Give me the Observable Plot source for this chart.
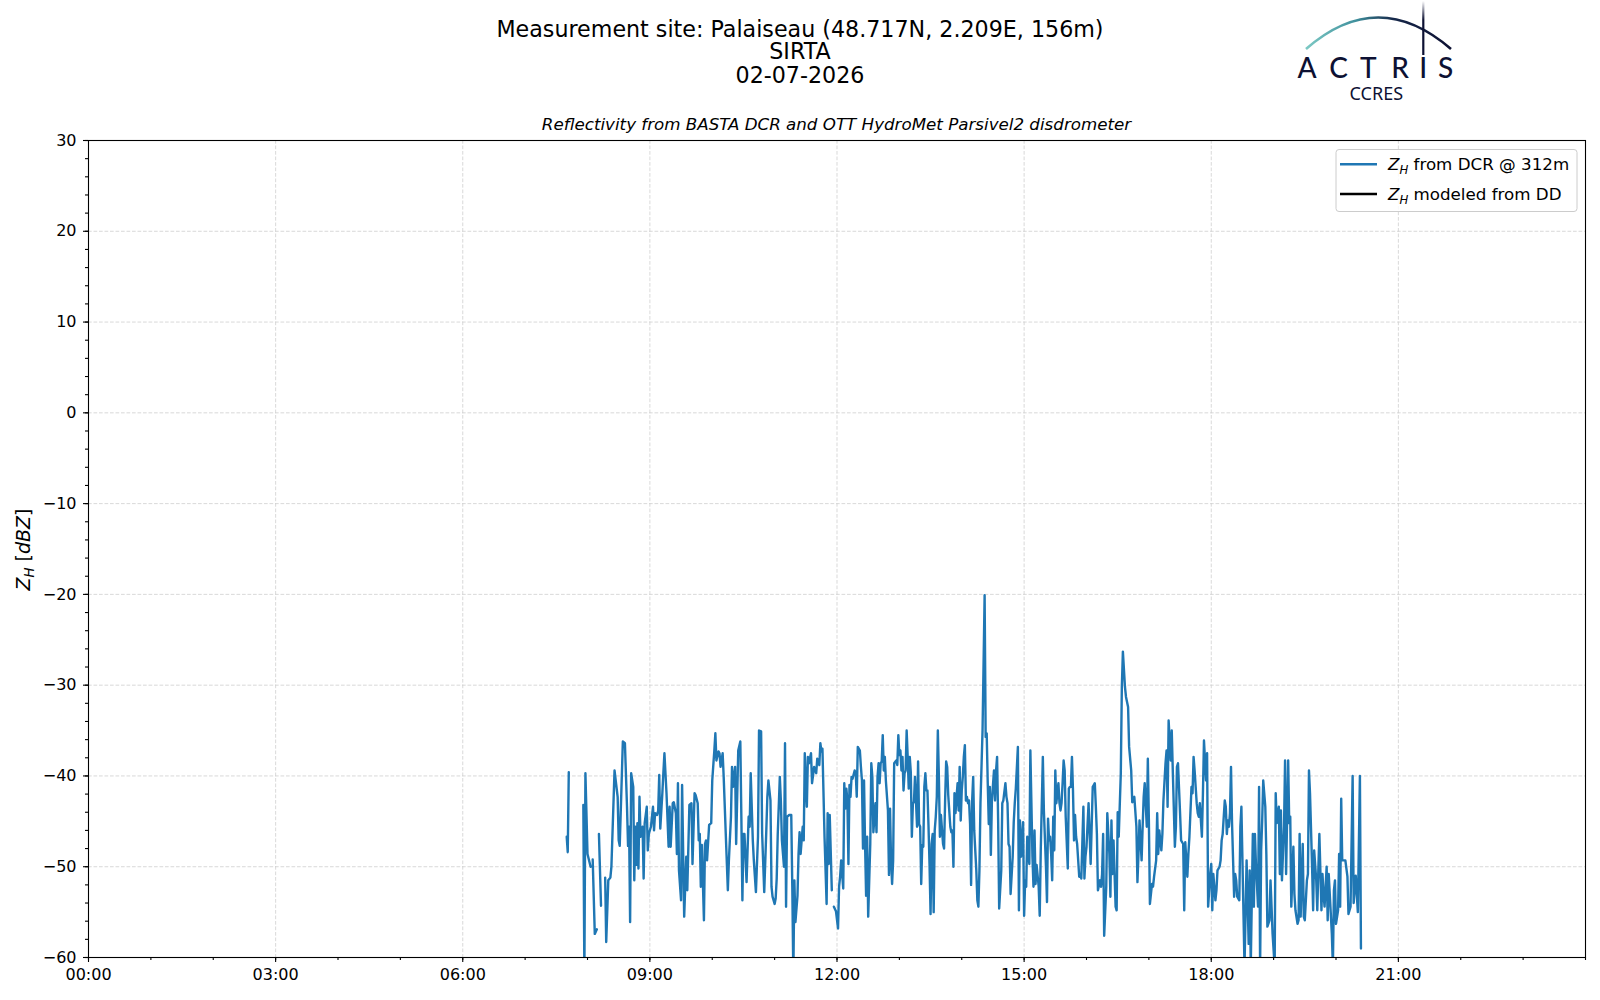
<!DOCTYPE html>
<html><head><meta charset="utf-8">
<script src="https://cdn.jsdelivr.net/npm/d3@7"></script>
<script src="https://cdn.jsdelivr.net/npm/@observablehq/plot@0.6"></script>
<style>
html,body{margin:0;padding:0;background:#fff;}
#wrap{position:relative;width:1600px;height:1000px;overflow:hidden;background:#fff;}
#wrap > svg{position:absolute;left:0;top:0;}
</style></head><body><div id="wrap"></div>
<script>
// ---- data: [minutes since midnight, Z_H in dBZ]; null = gap ----
const dcrMorning = [[460,-46.7],[461,-48.4],[462,-39.6],[469,null],[476,-43.2],[477,-62],[478,-39.7],[480,-48.6],[483,-50.0],[484,null],[485,-49.2],[487,-57.4],[489,-56.9],[490,null],[491,-46.4],[493,-54.3],[495,null],
[497,-51.2],[498,-58.3],[500,-51.5],[502,-51.2],[503,-50.0],[506,-39.4],[509,-42.3],[510,-47.1],[511,-47.7],[514,-36.2],[516,-36.4],[518,-43.4],[519,-47.7],[520,-45.6],[521,-56.1],[522,-39.7],[524,-41.2],[525,-51.5],[526,-45.6],[527,-49.8],[528,-45.2],[529,-50.2],[530,-42.3],[531,-46.7],[533,-45.6],[534,-51.3],[535,-45.2],[537,-43.4],[538,-48.2],[539,-46.4],[541,-45.6],[543,-43.4],[544,-46.0],[545,-44.1],[547,-44.3],[548,-43.8],[549,-39.9],[550,-45.8],[552,-41.9],[553,-39.6],[554,-37.5],[555,-39.7],[556,-41.9],[558,-47.8],[559,-43.4],[560,-47.8],[562,-43.0],[563,-42.9],[565,-44.1],[566,-48.6],[567,-40.8],[568,-50.4],[570,-53.7],[571,-41.0],[573,-55.5],[575,-48.9],[576,-52.6],[578,-43.2],[580,-43.0],[581,-49.7],[583,-41.9],[584,-42.1],[586,-43.0],[587,-47.1],[588,-46.4],[589,-52.2],[590,-47.6],[592,-55.9],[593,-47.5],[594,-47.1],[595,-49.3],[597,-45.4],[599,-45.2],[600,-40.5],[602,-37.2],[603,-35.3],[604,-38.3],[606,-37.3],[607,-37.5],[608,-39.0],[610,-37.5],[611,-40.1],[613,-46.4],[615,-52.6],[616,-49.3],[618,-44.5],[619,-39.0],[620,-41.2],[622,-39.0],[623,-47.5],[625,-37.2],[627,-36.2],[628,-44.5],[629,-53.7],[630,-46.4],[631,-46.4],[633,-51.7],[635,-44.5],[636,-45.6],[637,-39.7],[639,-47.1],[640,-49.3],[642,-52.8],[644,-46.7],[645,-35.0],[647,-35.1],[648,-46.4],[650,-52.8],[652,-46.0],[653,-42.3],[654,-40.5],[656,-42.7],[657,-52.2],[658,-53.3],[660,-54.1],[661,-53.5],[662,-51.3],[663,-46.4],[665,-40.1],[666,-42.7],[667,-47.1],[669,-50.0],[670,-36.4],[671,-54.4],[672,-44.5],[674,-44.3],[676,-44.3],[677,-52.2],[678,-62],[679,-51.5],[680,-56.1],[682,-53.2],[683,-48.6],[684,-46.2],[685,-48.6],[687,-45.6],[688,-47.1],[689,-37.5],[690,-40.8],[691,-43.4],[692,-37.9],[693,-38.6],[695,-37.5],[696,-40.8],[698,-39.0],[700,-39.7],[701,-38.1],[703,-38.8],[704,-36.4]];

const dcrMidday = [[705,-37.3],[706,-37.0],[708,-46.7],[710,-54.1],[711,-44.1],[712,-49.7],[713,-44.3],[715,-52.6],[716,null],[717,-54.4],[719,-54.9],[721,-56.8],[722,-52.2],[723,-51.1],[724,-49.3],[726,-52.4],[727,-40.8],[728,-43.6],[729,-41.4],[730,-42.7],[731,-49.7],[732,-41.0],[733,-42.3],[734,-40.1],[735,-40.3],[737,-39.4],[738,-39.6],[739,-42.3],[740,-36.8],[742,-37.2],[743,-39.0],[744,-40.5],[745,-48.0],[746,-40.5],[747,-47.5],[748,-53.2],[749,-46.7],[750,-55.5],[752,-47.5],[753,-38.6],[754,-40.1],[755,-46.2],[757,-43.0],[758,-46.2],[759,-40.1],[760,-38.6],[761,-40.8],[762,-38.6],[763,-38.4],[764,-35.5],[765,-39.4],[766,-37.9],[767,-40.5],[769,-43.8],[770,-50.9],[771,-43.6],[772,-49.3],[773,-51.9],[774,-49.3],[775,-38.6],[777,-38.3],[778,-38.8],[779,-35.5],[780,-37.7],[781,-37.2],[782,-39.4],[783,-37.9],[784,-41.6],[785,-39.7],[786,-39.4],[787,-35.0],[788,-37.9],[789,-41.4],[790,-37.9],[791,-39.6],[792,-46.7],[793,-43.0],[794,-42.9],[795,-40.1],[797,-45.6],[798,-38.4],[799,-45.3],[800,-45.6],[801,-51.9],[802,-47.6],[803,-47.8],[804,-41.2],[805,-39.7],[806,-41.6],[807,-41.6],[808,-45.4],[809,-49.7],[810,-55.2],[811,-47.5],[812,-46.4],[813,-55.0],[814,-46.0],[815,-44.5],[816,-42.3],[817,-35.0],[818,-40.1],[819,-46.7],[820,-44.3],[822,-47.5],[823,-48.0],[824,-42.7],[825,-38.4],[826,-39.0],[827,-42.1],[829,-45.6],[830,-46.2],[831,-46.0],[832,-50.0],[833,-41.9],[834,-44.1],[835,-42.3],[836,-40.8],[837,-43.8],[838,-39.0],[839,-44.9],[840,-41.6],[841,-40.1],[842,-37.9],[843,-36.6],[844,-42.7],[845,-42.3],[846,-43.0],[847,-42.7],[848,-45.3],[849,-52.0],[850,-42.7],[851,-40.1],[852,-46.0],[854,-50.4],[855,-53.7],[856,-54.4],[857,-50.4],[858,-43.0],[860,-35.0],[862,-20.1],[863,-35.7],[864,-35.3],[865,-40.8],[866,-45.3],[867,-41.2],[868,-48.7],[869,-42.7],[871,-39.4],[872,-42.7],[873,-39.4],[874,-37.9],[875,-44.9],[876,-54.6],[878,-50.4],[879,-43.0],[880,-42.7],[882,-40.8],[883,-42.3],[884,-43.0],[885,-47.5],[886,-47.8],[887,-53.0],[889,-48.9],[890,-45.1],[891,-43.0],[892,-41.4],[894,-36.8],[895,-54.8],[896,-44.9],[897,-48.9],[899,-45.1],[900,-55.4],[901,-51.5],[902,-52.2],[903,-46.7],[905,-49.7],[906,-37.2],[907,-43.0],[908,-48.9],[909,-52.2],[910,-46.0],[911,-51.9],[912,-49.8],[914,-52.2],[915,-55.4],[916,-48.2],[917,-43.0],[918,-37.9],[919,-43.8],[921,-50.0],[922,-53.9],[923,-44.7],[924,-47.1],[925,-46.7],[926,-48.6],[927,-51.5],[928,-44.5],[929,-48.2],[930,-39.4],[931,-43.0],[933,-40.8],[934,-43.0],[935,-43.8],[936,-43.0],[937,-40.8],[938,-38.3],[939,-39.4],[940,-44.5],[942,-50.2],[943,-41.4],[944,-41.2],[945,-41.2],[946,-37.9],[947,-41.6],[948,-47.1],[949,-44.3],[950,-46.7],[951,-47.5],[953,-51.1]];

const dcrEvening = [[954,-50.8],[955,-51.3],[957,-43.4],[958,-51.3],[959,-48.9],[960,-47.8],[962,-43.0],[963,-46.4],[964,-49.7],[966,-41.2],[967,-41.0],[968,-40.8],[969,-43.4],[970,-46.4],[971,-52.6],[973,-51.5],[974,-52.2],[975,-50.8],[976,-46.4],[977,-57.6],[979,-52.2],[980,-44.1],[982,-48.6],[983,-53.3],[984,-44.9],[985,-50.8],[986,-47.1],[988,-54.4],[989,-54.8],[990,-44.0],[991,-46.7],[993,-39.7],[994,-30.2],[995,-26.3],[997,-30.2],[998,-31.3],[1000,-32.4],[1001,-36.8],[1003,-39.4],[1004,-42.9],[1006,-42.3],[1008,-45.6],[1009,-51.7],[1010,-48.6],[1011,-44.9],[1013,-49.3],[1014,-45.6],[1015,-42.3],[1016,-40.8],[1018,-45.6],[1019,-38.1],[1020,-44.9],[1021,-54.1],[1023,-51.9],[1024,-52.2],[1025,-51.1],[1027,-49.3],[1028,-44.1],[1029,-48.6],[1030,-46.0],[1032,-48.2],[1033,-46.4],[1034,-42.7],[1036,-38.6],[1037,-37.2],[1038,-43.4],[1039,-33.9],[1041,-38.3],[1042,-35.0],[1043,-39.4],[1045,-47.8],[1046,-45.6],[1047,-39.0],[1048,-38.6],[1050,-44.1],[1051,-47.1],[1053,-47.5],[1054,-54.8],[1055,-47.3],[1057,-51.1],[1058,-48.6],[1059,-46.7],[1061,-41.2],[1062,-41.9],[1063,-37.9],[1064,-39.4],[1066,-43.0],[1067,-44.1],[1068,-44.5],[1069,-43.0],[1071,-46.7],[1072,-41.9],[1073,-36.1],[1075,-40.5],[1076,-37.5],[1077,-54.4],[1079,-50.8],[1080,-49.7],[1081,-54.8],[1082,-50.8],[1084,-53.7],[1085,-52.6],[1086,-50.4],[1088,-50.0],[1089,-49.3],[1090,-47.1],[1091,-46.4],[1093,-42.7],[1094,-43.4],[1095,-46.4],[1096,-44.9],[1097,-45.6],[1098,-44.1],[1099,-39.0],[1100,-45.2],[1102,-53.3],[1103,-50.8],[1104,-51.5],[1105,-53.3],[1107,-53.7],[1108,-45.6],[1109,-43.4],[1112,-61],[1113,-55.2],[1114,-49.3],[1116,-58.5],[1117,-50.4],[1118,-61],[1120,-46.4],[1121,-54.4],[1122,-46.4],[1123,-49.7],[1125,-54.4],[1126,-41.2],[1127,-61],[1128,-48.2],[1129,-44.9],[1130,-40.5],[1132,-43.4],[1133,-48.6],[1134,-56.6],[1136,-55.9],[1137,-51.5],[1138,-54.4],[1139,-57.4],[1141,-61],[1142,-41.9],[1143,-45.2],[1145,-43.4],[1146,-50.8],[1147,-43.8],[1148,-51.5],[1150,-45.6],[1151,-38.3],[1152,-50.8],[1154,-38.3],[1155,-45.2],[1156,-44.5],[1157,-54.4],[1159,-47.8],[1160,-53.0],[1161,-54.8],[1163,-56.3],[1164,-55.9],[1165,-46.4],[1166,-55.5],[1168,-47.5],[1169,-55.5],[1170,-55.9],[1172,-51.5],[1173,-50.8],[1174,-39.4],[1175,-41.9],[1177,-50.0],[1178,-54.8],[1179,-48.2],[1181,-51.5],[1182,-54.8],[1183,-50.4],[1184,-46.4],[1186,-54.8],[1187,-50.8],[1188,-53.0],[1189,-54.4],[1191,-50.0],[1192,-55.9],[1193,-50.8],[1195,-55.2],[1196,-57.4],[1197,-61],[1198,-52.6],[1199,-51.5],[1200,-56.3],[1202,-54.8],[1203,-48.6],[1204,-54.4],[1205,-42.5],[1206,-49.3],[1209,-49.3],[1211,-51.1],[1212,-55.2],[1214,-54.4],[1216,-40.0],[1217,-54.0],[1219,-51.0],[1221,-55.0],[1223,-40.0],[1224,-59.0]];

const ddModeled = []; // no disdrometer-modeled values on this day

const titleLines = ["Measurement site: Palaiseau (48.717N, 2.209E, 156m)", "SIRTA", "02-07-2026"];
const subtitle = "Reflectivity from BASTA DCR and OTT HydroMet Parsivel2 disdrometer";
const legendLabels = [" from DCR @ 312m", " modeled from DD"];
const xMajorTicks = [0, 3, 6, 9, 12, 15, 18, 21];
const xTickLabels = ["00:00", "03:00", "06:00", "09:00", "12:00", "15:00", "18:00", "21:00"];
const xMinorTicks = d3.range(0, 25, 1);
const yMajorTicks = [-60, -50, -40, -30, -20, -10, 0, 10, 20, 30];
const yMinorTicks = d3.range(-60, 31, 2);

// ---- build ----
const toRow = ([m, z]) => ({h: m / 60, z});
const dcr = [...dcrMorning, ...dcrMidday, ...dcrEvening].map(toRow);
const dd = ddModeled.map(toRow);

const grid = {stroke: "#cfcfcf", strokeOpacity: 1, strokeWidth: 0.8, strokeDasharray: "3.7,1.8"};
const plot = Plot.plot({
  width: 1600, height: 1000,
  marginTop: 140, marginRight: 15, marginBottom: 43, marginLeft: 88,
  style: {fontFamily: "'DejaVu Sans', sans-serif", fontSize: "16px", color: "#000", background: "transparent"},
  x: {domain: [0, 24], label: null},
  y: {domain: [-60, 30], label: null},
  marks: [
    Plot.gridX(xMajorTicks, grid),
    Plot.gridY(yMajorTicks, grid),
    Plot.line(dcr, {x: "h", y: "z", stroke: "#1f77b4", strokeWidth: 2.4, clip: true, strokeLinejoin: "round"}),
    Plot.line(dd, {x: "h", y: "z", stroke: "#000", strokeWidth: 2.4, clip: true}),
    Plot.axisX(xMinorTicks, {tickSize: 3, tickFormat: () => "", label: null, strokeWidth: 1.1}),
    Plot.axisX(xMajorTicks, {tickSize: 5, tickPadding: 6, strokeWidth: 1.1, label: null,
      tickFormat: d => xTickLabels[xMajorTicks.indexOf(d)]}),
    Plot.axisY(yMinorTicks, {tickSize: 3, tickFormat: () => "", label: null, strokeWidth: 1.1}),
    Plot.axisY(yMajorTicks, {tickSize: 5, tickPadding: 7, label: null, strokeWidth: 1.1}),
    Plot.frame({stroke: "#000", strokeWidth: 1.1})
  ]
});
const wrap = document.getElementById("wrap");
wrap.appendChild(plot);

// ---- overlay: titles, y label, legend, logo ----
const svg = d3.select(wrap).append("svg").attr("width", 1600).attr("height", 1000)
  .attr("font-family", "'DejaVu Sans', sans-serif");
const defs = svg.append("defs");
const g1 = defs.append("linearGradient").attr("id", "arcGrad").attr("x1", "0").attr("x2", "1").attr("y1", "0").attr("y2", "0");
g1.append("stop").attr("offset", "0%").attr("stop-color", "#7cc9c4");
g1.append("stop").attr("offset", "35%").attr("stop-color", "#3f8f9c");
g1.append("stop").attr("offset", "60%").attr("stop-color", "#16284a");
g1.append("stop").attr("offset", "100%").attr("stop-color", "#0d1133");
const g2 = defs.append("linearGradient").attr("id", "stemGrad").attr("x1", "0").attr("x2", "0").attr("y1", "0").attr("y2", "1");
g2.append("stop").attr("offset", "0%").attr("stop-color", "#0d1133").attr("stop-opacity", 0);
g2.append("stop").attr("offset", "35%").attr("stop-color", "#0d1133").attr("stop-opacity", 1);
g2.append("stop").attr("offset", "100%").attr("stop-color", "#0d1133").attr("stop-opacity", 1);

const titleBaselines = [36.5, 59, 82.5];
titleLines.forEach((t, i) => svg.append("text").attr("x", 800).attr("y", titleBaselines[i])
  .attr("text-anchor", "middle").attr("font-size", 22.2).attr("fill", "#000").text(t));
svg.append("text").attr("x", 836.5).attr("y", 129.5).attr("text-anchor", "middle")
  .attr("font-size", 16.7).attr("font-style", "italic").attr("fill", "#000").text(subtitle);

// y label
const yl = svg.append("text").attr("transform", "translate(30,549.5) rotate(-90)")
  .attr("text-anchor", "middle").attr("font-size", 19).attr("fill", "#000");
yl.append("tspan").attr("font-style", "italic").text("Z");
yl.append("tspan").attr("font-style", "italic").attr("font-size", 13.3).attr("dy", 4).text("H");
yl.append("tspan").attr("dy", -4).text(" [");
yl.append("tspan").attr("font-style", "italic").text("dBZ");
yl.append("tspan").text("]");

// legend
svg.append("rect").attr("x", 1336).attr("y", 149.5).attr("width", 241).attr("height", 62).attr("rx", 3)
  .attr("fill", "#fff").attr("fill-opacity", 0.8).attr("stroke", "#cccccc").attr("stroke-width", 1);
const legendColors = ["#1f77b4", "#000"];
const legendRows = [164.3, 194];
legendLabels.forEach((lab, i) => {
  svg.append("line").attr("x1", 1340).attr("x2", 1377).attr("y1", legendRows[i]).attr("y2", legendRows[i])
    .attr("stroke", legendColors[i]).attr("stroke-width", 2.4);
  const t = svg.append("text").attr("x", 1388).attr("y", legendRows[i] + 6).attr("font-size", 16.7).attr("fill", "#000");
  t.append("tspan").attr("font-style", "italic").text("Z");
  t.append("tspan").attr("font-style", "italic").attr("font-size", 11.7).attr("dy", 3.5).text("H");
  t.append("tspan").attr("dy", -3.5).text(lab);
});

// logo
svg.append("path").attr("d", "M1306,49 Q1378,-14 1451,49").attr("fill", "none")
  .attr("stroke", "url(#arcGrad)").attr("stroke-width", 2.6);
svg.append("rect").attr("x", 1422.2).attr("y", 1).attr("width", 2.2).attr("height", 54).attr("fill", "url(#stemGrad)");
const logoLetters = ["A", "C", "T", "R", "I", "S"];
const logoX = [1307, 1338.7, 1368.3, 1400, 1423.3, 1445.7];
logoLetters.forEach((L, i) => svg.append("text").attr("x", logoX[i]).attr("y", 78.3)
  .attr("text-anchor", "middle").attr("font-family", "Lato, 'Noto Sans', sans-serif").attr("font-size", 28)
  .attr("font-weight", 500).attr("fill", "#0d1133").text(L));
svg.append("text").attr("x", 1376.3).attr("y", 100).attr("text-anchor", "middle")
  .attr("font-family", "'Noto Sans', sans-serif").attr("font-size", 18).attr("fill", "#0d1133").text("CCRES");
</script>
</body></html>
